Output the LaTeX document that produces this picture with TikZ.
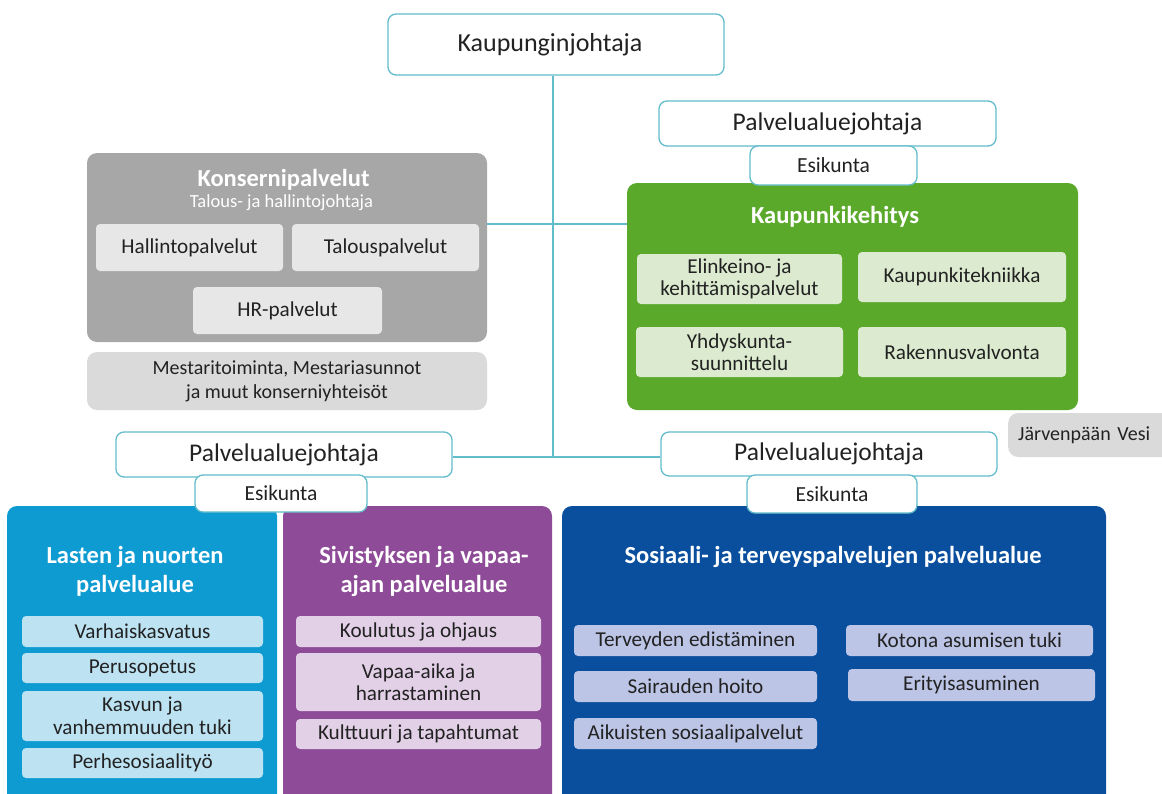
\documentclass[tikz,border=0pt]{standalone}
\usepackage{fontspec}
\setmainfont{Carlito}
\definecolor{linecol}{HTML}{62BCCB}
\definecolor{ink}{HTML}{222222}
\definecolor{greyarea}{HTML}{A7A7A7}
\definecolor{greyunit}{HTML}{E7E7E7}
\definecolor{greysoft}{HTML}{DADADA}
\definecolor{greenarea}{HTML}{5AA92B}
\definecolor{greenunit}{HTML}{DCEBCF}
\definecolor{cyanarea}{HTML}{0E9BD2}
\definecolor{cyanunit}{HTML}{BDE3F3}
\definecolor{purplearea}{HTML}{8E4B97}
\definecolor{purpleunit}{HTML}{E2D0E7}
\definecolor{navyarea}{HTML}{0A4F9E}
\definecolor{navyunit}{HTML}{BCC5E6}
\begin{document}
\begin{tikzpicture}[x=1pt,y=-1pt,
  conn/.style={draw=linecol, line width=1.3pt},
  head/.style={draw=linecol, line width=1.3pt, fill=white, rounded corners=8pt,
    inner sep=0pt, text=ink, font=\fontsize{25.5}{28}\selectfont},
  staff/.style={head, font=\fontsize{21.5}{24}\selectfont},
  area/.style={rounded corners=10pt, inner sep=0pt},
  unit/.style={rounded corners=4pt, inner sep=0pt, text=ink, align=center,
    font=\fontsize{21.2}{22.5}\selectfont},
  areatitle/.style={text=white, align=center, inner sep=0pt,
    font=\bfseries\fontsize{24.5}{29}\selectfont}
]
\useasboundingbox (0,0) rectangle (1162,793);
\clip (0,0) rectangle (1162,793);

% junction points of the connector tree
\coordinate (mid) at (553,224);
\coordinate (hub) at (553,457);

% top level
\node[head, minimum width=336pt, minimum height=61pt, font=\fontsize{26}{28}\selectfont]
  (kj) at (556,44.5) {\hspace*{-12pt}Kaupunginjohtaja};

% connectors (drawn beneath the boxes)
\draw[conn] (kj.south -| hub) -- (hub);

% group services
\node[area, fill=greyarea, minimum width=400pt, minimum height=189pt] (kp) at (287,247.5) {};
\node[areatitle, font=\bfseries\fontsize{24.5}{26}\selectfont] (kpt) at (283.5,180) {Konsernipalvelut};
\node[text=white, inner sep=0pt, font=\fontsize{18.5}{20}\selectfont] (kps) at (281.5,203) {Talous- ja hallintojohtaja};
\node[unit, fill=greyunit, minimum width=187pt, minimum height=47pt] (h1) at (189.5,247.5) {Hallintopalvelut};
\node[unit, fill=greyunit, minimum width=187pt, minimum height=47pt] (h2) at (385.5,247.5) {Talouspalvelut};
\node[unit, fill=greyunit, minimum width=189pt, minimum height=47pt] (h3) at (287.5,310.5) {HR-palvelut};
\node[unit, fill=greysoft, rounded corners=10pt, minimum width=400pt, minimum height=58pt,
  font=\fontsize{20}{24}\selectfont] (mest) at (287,381)
  {Mestaritoiminta, Mestariasunnot\\ja muut konserniyhteisöt};

% urban development
\node[area, fill=greenarea, minimum width=451pt, minimum height=227pt] (kk) at (852.5,296.5) {};
\draw[conn] (kp.east |- mid) -- (kk.west |- mid);
\node[areatitle] (kkt) at (835,217) {Kaupunkikehitys};
\node[unit, fill=greenunit, minimum width=205pt, minimum height=50pt] (g1) at (739.5,279) {Elinkeino- ja\\kehittämispalvelut};
\node[unit, fill=greenunit, minimum width=208pt, minimum height=50pt] (g2) at (962,277) {Kaupunkitekniikka};
\node[unit, fill=greenunit, minimum width=207pt, minimum height=50pt] (g3) at (739.5,352) {Yhdyskunta-\\suunnittelu};
\node[unit, fill=greenunit, minimum width=208pt, minimum height=50pt] (g4) at (962,352) {Rakennusvalvonta};
\node[head, minimum width=337pt, minimum height=45pt] (pj1) at (827.5,123.5) {Palvelualuejohtaja};
\node[staff, minimum width=167pt, minimum height=39pt] (ek1) at (833.5,165.5) {Esikunta};

% water utility, running off the right edge
\node[area, fill=greysoft, anchor=west, minimum height=44pt, inner xsep=10pt,
  text width=150pt, align=left, text=ink, font=\fontsize{20}{24}\selectfont]
  (jv) at (1008,435) {Järvenpään Vesi};

% lower service areas
\node[area, fill=cyanarea, minimum width=270pt, minimum height=324pt] (ln) at (142,668) {};
\node[area, fill=purplearea, minimum width=269pt, minimum height=324pt] (sv) at (417.5,668) {};
\node[area, fill=navyarea, minimum width=544pt, minimum height=324pt] (st) at (834,668) {};

\node[areatitle] (lnt) at (135,571.5) {Lasten ja nuorten\\palvelualue};
\node[unit, fill=cyanunit, minimum width=241pt, minimum height=31pt] (l1) at (142.5,631.5) {Varhaiskasvatus};
\node[unit, fill=cyanunit, minimum width=241pt, minimum height=30pt] (l2) at (142.5,668) {Perusopetus};
\node[unit, fill=cyanunit, minimum width=241pt, minimum height=50pt] (l3) at (142.5,716) {Kasvun ja\\vanhemmuuden tuki};
\node[unit, fill=cyanunit, minimum width=241pt, minimum height=30pt] (l4) at (142.5,763) {Perhesosiaalityö};

\node[areatitle] (svt) at (424,571.5) {Sivistyksen ja vapaa-\\ajan palvelualue};
\node[unit, fill=purpleunit, minimum width=245pt, minimum height=31pt] (s1) at (418.5,631.5) {Koulutus ja ohjaus};
\node[unit, fill=purpleunit, minimum width=245pt, minimum height=58pt] (s2) at (418.5,682) {Vapaa-aika ja\\harrastaminen};
\node[unit, fill=purpleunit, minimum width=245pt, minimum height=30pt] (s3) at (418.5,734) {Kulttuuri ja tapahtumat};

\node[areatitle] (stt) at (833,557) {Sosiaali- ja terveyspalvelujen palvelualue};
\node[unit, fill=navyunit, minimum width=243pt, minimum height=31pt] (t1) at (695.5,640.5) {Terveyden edistäminen};
\node[unit, fill=navyunit, minimum width=243pt, minimum height=31pt] (t2) at (695.5,686.5) {Sairauden hoito};
\node[unit, fill=navyunit, minimum width=243pt, minimum height=31pt] (t3) at (695.5,733.5) {Aikuisten sosiaalipalvelut};
\node[unit, fill=navyunit, minimum width=247pt, minimum height=31pt] (t4) at (969.5,640.5) {Kotona asumisen tuki};
\node[unit, fill=navyunit, minimum width=247pt, minimum height=32pt] (t5) at (971.5,685) {Erityisasuminen};

% area directors and their staff offices
\node[head, minimum width=336pt, minimum height=45pt] (pj2) at (284,454.5) {Palvelualuejohtaja};
\node[head, minimum width=336pt, minimum height=44pt] (pj3) at (829,454) {Palvelualuejohtaja};
\draw[conn] (pj2.east |- hub) -- (pj3.west |- hub);
\node[staff, minimum width=172pt, minimum height=37pt] (ek2) at (281,493.5) {Esikunta};
\node[staff, minimum width=170pt, minimum height=38pt] (ek3) at (832,494) {Esikunta};
\end{tikzpicture}
\end{document}
